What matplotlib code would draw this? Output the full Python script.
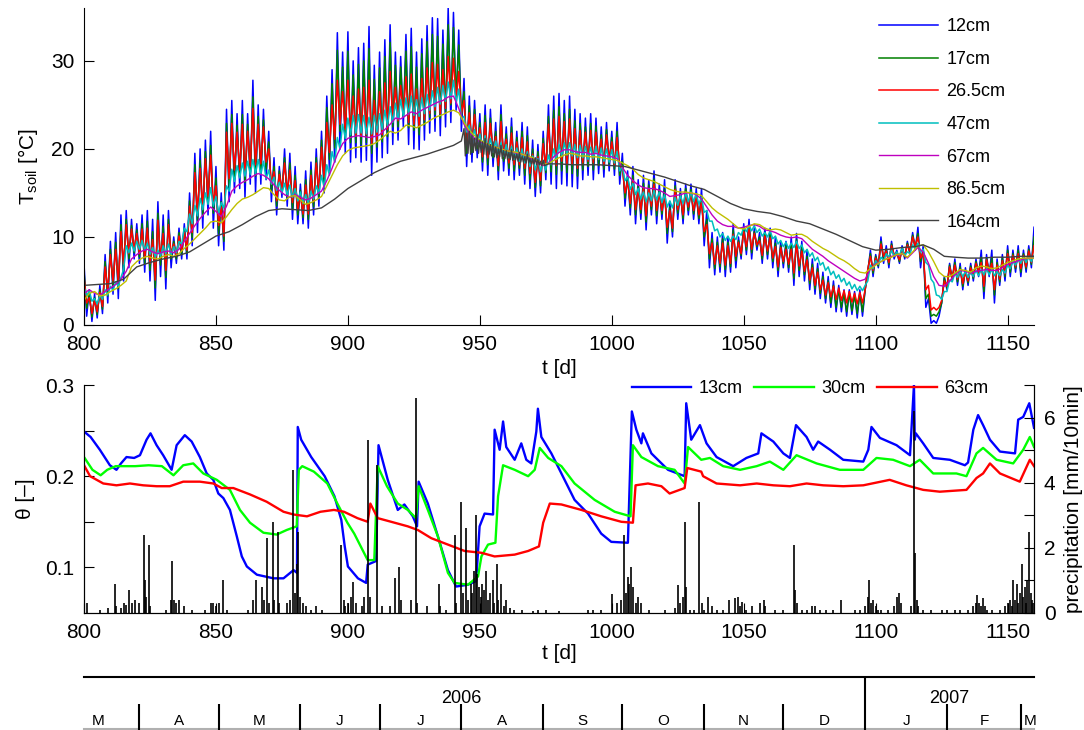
import numpy as np
import matplotlib.pyplot as plt

plt.rcParams['font.family'] = ['Liberation Sans', 'DejaVu Sans']
plt.rcParams['mathtext.fontset'] = 'custom'
plt.rcParams['mathtext.rm'] = 'Liberation Sans'
plt.rcParams['mathtext.it'] = 'Liberation Sans:italic'

# ---------------- soil temperature (daily highs on even days, lows on odd days)
t12_hi = [7.0, 4.0, 3.5, 4.5, 8.0, 9.5, 10.5, 12.5, 13.0, 12.0,
          11.5, 12.5, 13.0, 12.0, 14.0, 12.5, 13.0, 10.0, 11.0, 11.5,
          15.0, 19.5, 20.0, 21.0, 22.0, 18.0, 15.0, 24.5, 25.5, 24.0,
          25.5, 24.0, 27.8, 25.0, 24.5, 22.0, 19.0, 18.0, 20.0, 19.5,
          18.0, 16.0, 17.5, 18.5, 20.0, 22.0, 26.0, 29.0, 33.2, 31.0,
          33.3, 30.0, 31.5, 32.0, 33.9, 29.5, 31.0, 32.4, 34.1, 31.0,
          30.5, 33.0, 33.7, 31.0, 32.5, 34.0, 34.9, 34.8, 33.5, 36.0,
          35.5, 33.5, 28.0, 26.0, 25.5, 24.0, 25.0, 24.5, 23.0, 25.0,
          22.5, 23.5, 22.0, 23.0, 22.5, 21.0, 20.5, 22.0, 25.0, 26.0,
          26.3, 25.5, 26.0, 24.5, 24.0, 23.5, 24.0, 23.5, 22.5, 23.0,
          22.0, 23.0, 19.5, 17.5, 18.0, 16.5, 17.0, 16.5, 17.5, 16.0,
          16.5, 14.0, 16.5, 15.5, 16.0, 16.0, 15.5, 15.5, 13.0, 10.5,
          10.0, 10.5, 10.0, 11.5, 10.0, 11.5, 12.0, 11.0, 10.5, 11.0,
          11.0, 10.0, 9.5, 9.5, 10.0, 10.4, 9.5, 8.5, 7.5, 7.0,
          6.0, 5.5, 5.0, 4.5, 4.0, 4.0, 3.8, 4.0, 4.0, 8.5,
          8.0, 10.0, 9.0, 9.5, 8.5, 9.0, 9.5, 10.5, 11.1, 9.0,
          3.0, 0.5, 1.0, 5.5, 7.0, 7.5, 7.0, 6.5, 7.0, 7.5,
          8.5, 8.0, 8.5, 7.5, 8.0, 9.0, 8.5, 9.0, 8.5, 9.0,
          11.1]
t12_lo = [1.0, 0.4, 0.8, 1.3, 2.5, 3.5, 3.0, 5.0, 6.5, 7.5,
          7.0, 6.0, 5.0, 2.8, 5.5, 4.1, 6.5, 7.0, 7.5, 7.5,
          9.0, 10.5, 11.0, 12.5, 11.0, 9.0, 8.5, 14.0, 15.0, 15.5,
          14.5, 16.0, 15.0, 16.0, 16.5, 14.0, 12.5, 14.5, 13.5, 12.0,
          11.5, 11.5, 11.0, 12.5, 13.5, 15.0, 17.5, 18.5, 20.0, 19.5,
          18.5, 19.0, 18.5, 18.7, 17.0, 18.5, 19.0, 19.5, 20.5, 21.0,
          22.5, 20.5, 20.0, 19.9, 21.0, 21.8, 22.0, 21.5, 22.5, 23.0,
          24.4, 22.0, 18.0, 18.5, 19.0, 17.5, 17.0, 18.0, 16.5, 17.5,
          17.0, 16.5, 17.0, 16.0, 15.5, 14.6, 15.0, 16.5, 16.0, 15.5,
          16.0, 15.8, 15.7, 15.5, 16.5, 17.0, 16.5, 17.2, 16.8, 17.5,
          17.0, 16.0, 13.5, 12.5, 11.5, 12.0, 10.8, 12.5, 11.5, 12.0,
          9.3, 10.0, 12.0, 11.5, 12.5, 12.0, 11.5, 9.0, 6.5, 5.7,
          6.0, 5.5, 6.0, 6.5, 7.5, 8.0, 7.5, 8.5, 7.0, 7.5,
          6.5, 5.5, 6.5, 6.0, 4.5, 5.5, 5.0, 4.0, 3.5, 3.0,
          2.5, 2.0, 1.5, 1.5, 1.0, 1.2, 0.8, 1.0, 6.0, 5.5,
          6.5, 7.0, 6.5, 7.5, 7.0, 7.5, 8.0, 8.5, 6.5, 2.0,
          0.2, 0.2, 2.5, 4.0, 5.0, 4.5, 4.0, 4.5, 5.0, 5.5,
          3.0, 5.5, 2.5, 4.5, 5.0, 5.5, 6.0, 5.5, 6.0, 6.5]

t17_hi = [6.1, 3.5, 3.1, 4.0, 7.2, 8.6, 9.4, 11.4, 12.0, 11.3,
          10.8, 11.5, 11.8, 10.6, 12.7, 11.2, 12.0, 9.5, 10.5, 10.9,
          14.1, 18.2, 18.7, 19.7, 20.4, 16.7, 14.0, 22.9, 23.9, 22.7,
          23.9, 22.8, 25.9, 23.7, 23.3, 20.8, 18.0, 17.5, 19.0, 18.4,
          17.0, 15.3, 16.5, 17.6, 19.0, 21.0, 24.7, 27.4, 31.2, 29.3,
          31.1, 28.4, 29.6, 30.0, 31.4, 27.9, 29.2, 30.5, 32.1, 29.5,
          29.3, 31.1, 31.6, 29.3, 30.8, 32.2, 33.0, 32.8, 31.9, 34.1,
          33.8, 31.8, 26.5, 24.9, 24.5, 23.0, 23.8, 23.5, 22.0, 23.9,
          21.7, 22.5, 21.3, 22.0, 21.5, 20.0, 19.7, 21.2, 23.7, 24.4,
          24.8, 24.0, 24.5, 23.2, 22.9, 22.5, 22.9, 22.6, 21.6, 22.2,
          21.3, 22.0, 18.6, 16.8, 17.0, 15.8, 16.1, 15.9, 16.6, 15.4,
          15.4, 13.4, 15.8, 14.9, 15.5, 15.4, 14.9, 14.5, 12.0, 9.8,
          9.4, 9.8, 9.4, 10.8, 9.6, 11.0, 11.3, 10.6, 10.0, 10.5,
          10.3, 9.3, 9.0, 9.0, 9.2, 9.7, 8.8, 7.8, 6.9, 6.4,
          5.5, 5.0, 4.5, 4.0, 3.6, 3.6, 3.4, 3.6, 4.0, 8.1,
          7.8, 9.5, 8.6, 9.2, 8.3, 8.8, 9.3, 10.2, 10.4, 8.5,
          3.5, 1.2, 1.5, 5.3, 6.8, 7.1, 6.6, 6.2, 6.7, 7.2,
          7.7, 7.6, 7.6, 7.1, 7.6, 8.5, 8.1, 8.5, 8.1, 8.6,
          10.0]
t17_lo = [1.9, 0.9, 1.2, 1.8, 3.3, 4.4, 4.1, 6.1, 7.5, 8.2,
          7.7, 7.0, 6.2, 4.2, 6.8, 5.4, 7.5, 7.5, 8.0, 8.1,
          9.9, 11.9, 12.4, 13.8, 12.7, 10.4, 9.5, 15.6, 16.6, 16.8,
          16.2, 17.2, 16.9, 17.4, 17.7, 15.2, 13.5, 15.0, 14.5, 13.1,
          12.5, 12.2, 12.0, 13.4, 14.5, 16.0, 18.8, 20.1, 22.0, 21.2,
          20.7, 20.7, 20.5, 20.7, 19.5, 20.2, 20.8, 21.4, 22.5, 22.5,
          23.7, 22.4, 22.1, 21.6, 22.7, 23.6, 23.9, 23.5, 24.2, 25.0,
          26.1, 23.7, 19.5, 19.6, 20.0, 18.5, 18.2, 19.0, 17.5, 18.6,
          17.8, 17.5, 17.8, 17.0, 16.5, 15.6, 15.8, 17.3, 17.4, 17.1,
          17.5, 17.3, 17.2, 16.9, 17.6, 18.0, 17.6, 18.1, 17.7, 18.3,
          17.7, 17.0, 14.4, 13.3, 12.5, 12.7, 11.7, 13.1, 12.4, 12.6,
          10.4, 10.6, 12.7, 12.1, 13.0, 12.6, 12.1, 10.0, 7.5, 6.4,
          6.6, 6.3, 6.6, 7.3, 7.9, 8.5, 8.2, 8.9, 7.5, 8.0,
          7.2, 6.2, 7.0, 6.5, 5.3, 6.2, 5.7, 4.7, 4.1, 3.6,
          3.0, 2.5, 2.0, 2.0, 1.5, 1.6, 1.3, 1.5, 6.2, 5.9,
          6.7, 7.5, 6.9, 7.8, 7.2, 7.7, 8.2, 8.8, 7.2, 3.0,
          1.0, 1.0, 2.5, 4.2, 5.2, 4.9, 4.4, 4.8, 5.3, 5.8,
          3.8, 5.9, 3.4, 4.9, 5.5, 6.0, 6.4, 6.0, 6.4, 6.9]

t26_hi = [5.5, 3.1, 2.8, 3.7, 6.6, 8.0, 8.6, 10.6, 11.4, 10.9,
          10.4, 10.9, 11.0, 9.7, 11.9, 10.4, 11.4, 9.2, 10.1, 10.5,
          13.5, 17.3, 17.8, 18.9, 19.3, 15.8, 13.4, 21.9, 22.9, 21.9,
          22.8, 22.0, 24.6, 22.8, 22.5, 20.0, 17.4, 17.1, 18.4, 17.6,
          16.4, 14.9, 15.9, 17.0, 18.4, 20.2, 23.0, 25.0, 27.8, 26.5,
          27.8, 26.0, 26.8, 27.0, 27.8, 25.5, 26.5, 27.5, 28.8, 27.0,
          27.2, 28.2, 28.5, 26.8, 28.0, 29.2, 29.8, 29.6, 29.0, 30.5,
          30.3, 28.8, 25.5, 24.1, 23.9, 22.4, 23.0, 22.9, 21.4, 23.1,
          21.1, 21.8, 20.8, 21.3, 20.8, 19.4, 19.1, 20.6, 22.8, 23.4,
          23.7, 23.1, 23.4, 22.3, 22.1, 21.9, 22.1, 21.9, 21.1, 21.6,
          20.8, 21.3, 18.0, 16.3, 16.4, 15.4, 15.5, 15.5, 16.0, 15.0,
          14.7, 13.0, 15.4, 14.5, 15.1, 15.0, 14.5, 13.9, 11.4, 9.3,
          9.0, 9.3, 9.0, 10.3, 9.4, 10.6, 10.9, 10.4, 9.6, 10.1,
          9.9, 8.9, 8.8, 8.6, 8.6, 9.2, 8.4, 7.4, 6.5, 6.0,
          5.1, 4.8, 4.4, 4.2, 3.9, 3.8, 3.6, 3.7, 4.0, 7.8,
          7.6, 9.2, 8.4, 9.0, 8.1, 8.6, 9.1, 10.0, 10.0, 8.2,
          4.5, 2.0, 2.0, 5.0, 6.6, 6.8, 6.3, 6.0, 6.5, 7.0,
          7.1, 7.4, 7.0, 6.8, 7.3, 8.1, 7.9, 8.1, 7.9, 8.4,
          9.0]
t26_lo = [2.5, 1.3, 1.5, 2.1, 3.9, 5.0, 4.9, 6.9, 8.1, 8.6,
          8.1, 7.6, 7.0, 5.1, 7.6, 6.2, 8.1, 7.8, 8.4, 8.5,
          10.5, 12.8, 13.3, 14.6, 13.8, 11.3, 10.1, 16.6, 17.6, 17.6,
          17.3, 18.0, 18.2, 18.3, 18.5, 16.0, 14.1, 15.4, 15.1, 13.9,
          13.1, 12.6, 12.6, 14.0, 15.1, 16.8, 19.6, 21.1, 22.8, 22.2,
          21.8, 21.5, 21.4, 21.6, 20.6, 21.0, 21.6, 22.2, 23.2, 23.2,
          24.0, 23.0, 22.8, 22.5, 23.3, 24.0, 24.4, 24.0, 24.6, 25.2,
          25.6, 24.0, 20.5, 20.4, 20.6, 19.1, 19.0, 19.6, 18.1, 19.4,
          18.4, 18.2, 18.2, 17.8, 17.2, 16.2, 16.4, 17.9, 18.3, 18.1,
          18.6, 18.2, 18.3, 17.8, 18.4, 18.6, 18.4, 18.8, 18.2, 18.9,
          18.2, 17.8, 15.0, 13.8, 13.1, 13.1, 12.4, 13.5, 13.0, 13.0,
          11.1, 11.0, 13.1, 12.5, 13.4, 13.0, 12.5, 10.6, 8.1, 6.9,
          7.0, 6.8, 7.0, 7.8, 8.1, 8.9, 8.6, 9.1, 7.9, 8.4,
          7.6, 6.6, 7.2, 6.9, 5.9, 6.7, 6.1, 5.1, 4.5, 4.0,
          3.4, 3.2, 2.9, 2.8, 2.5, 2.6, 2.4, 2.5, 6.3, 6.2,
          6.9, 7.8, 7.1, 8.0, 7.4, 7.9, 8.4, 9.0, 7.6, 4.0,
          1.7, 1.7, 2.8, 4.4, 5.4, 5.2, 4.7, 5.0, 5.5, 6.0,
          4.4, 6.1, 4.0, 5.2, 5.8, 6.4, 6.6, 6.4, 6.6, 7.1]

t47_hi = [4.3, 3.9, 3.0, 3.4, 4.0, 4.4, 4.9, 5.4, 9.0, 9.3,
          9.5, 9.6, 9.3, 8.8, 8.5, 9.0, 9.2, 8.9, 9.5, 11.0,
          12.6, 13.6, 14.4, 15.0, 15.6, 14.6, 13.9, 15.8, 17.7, 18.1,
          18.4, 18.6, 18.8, 18.8, 18.6, 17.6, 16.8, 16.2, 16.1, 15.9,
          15.5, 15.1, 14.8, 15.2, 15.8, 17.0, 18.2, 19.7, 21.3, 22.8,
          23.5, 23.8, 23.9, 23.8, 23.6, 23.8, 24.0, 24.4, 24.8, 25.2,
          25.6, 25.8, 26.0, 25.6, 25.8, 26.2, 26.6, 27.0, 27.2, 27.6,
          27.8, 26.8, 23.7, 22.7, 22.2, 21.7, 21.5, 21.2, 20.9, 20.7,
          20.5, 20.3, 20.1, 20.0, 19.7, 19.2, 18.9, 18.7, 19.3, 20.0,
          20.5, 20.7, 20.7, 20.5, 20.4, 20.3, 20.2, 20.3, 20.1, 20.0,
          19.9, 19.7, 18.0, 16.8, 16.1, 15.5, 15.1, 15.0, 15.3, 15.1,
          14.8, 14.1, 14.5, 14.7, 15.0, 15.1, 14.9, 14.5, 13.0, 11.8,
          10.9, 10.4, 10.1, 10.1, 10.5, 11.1, 11.3, 11.3, 10.9, 10.5,
          10.7, 10.1, 9.6, 9.4, 9.3, 9.5, 9.1, 8.6, 8.2, 7.7,
          7.1, 6.6, 6.1, 5.7, 5.3, 4.9, 4.6, 4.4, 4.5, 6.8,
          7.3, 7.7, 8.1, 8.5, 8.3, 8.7, 8.3, 9.1, 9.3, 8.6,
          6.8, 4.8, 3.3, 3.8, 5.1, 5.9, 6.2, 6.1, 6.0, 6.2,
          6.3, 6.4, 6.3, 6.1, 6.3, 6.8, 7.3, 7.5, 7.7, 7.8,
          7.9]
t47_lo = [3.3, 2.7, 2.4, 2.9, 3.4, 3.9, 4.4, 6.3, 8.2, 8.4,
          8.6, 8.5, 8.0, 7.7, 7.8, 8.1, 8.0, 8.2, 9.2, 10.6,
          11.5, 12.4, 13.1, 13.7, 13.5, 12.7, 13.3, 15.2, 16.3, 16.7,
          16.9, 17.1, 17.2, 17.1, 16.6, 16.0, 15.3, 15.0, 14.8, 14.5,
          14.1, 13.8, 13.8, 14.3, 15.0, 15.6, 17.0, 18.5, 20.0, 21.2,
          21.6, 21.8, 21.8, 21.7, 21.7, 21.9, 22.2, 22.6, 23.0, 23.4,
          23.7, 23.9, 23.8, 23.7, 24.0, 24.4, 24.8, 25.1, 25.4, 25.7,
          25.3, 23.4, 21.8, 21.0, 20.5, 20.2, 19.9, 19.6, 19.4, 19.2,
          19.0, 18.8, 18.6, 18.4, 18.0, 17.6, 17.4, 17.6, 18.2, 18.8,
          19.2, 19.3, 19.2, 19.0, 19.0, 18.8, 18.9, 18.8, 18.6, 18.5,
          18.4, 17.5, 16.4, 15.4, 14.8, 14.3, 14.0, 14.1, 14.2, 13.9,
          13.4, 13.3, 13.6, 13.8, 14.0, 14.0, 13.7, 12.8, 11.8, 10.7,
          10.0, 9.6, 9.5, 9.7, 10.2, 10.6, 10.7, 10.5, 10.1, 10.0,
          9.8, 9.2, 8.9, 8.7, 8.8, 8.7, 8.2, 7.8, 7.3, 6.8,
          6.2, 5.7, 5.3, 4.9, 4.5, 4.1, 3.9, 3.9, 5.0, 6.4,
          6.9, 7.3, 7.7, 7.8, 7.9, 7.9, 8.1, 8.6, 8.3, 7.1,
          5.2, 3.4, 2.9, 3.8, 4.9, 5.4, 5.5, 5.4, 5.5, 5.6,
          5.7, 5.7, 5.6, 5.6, 5.9, 6.4, 6.8, 7.0, 7.1, 7.2]

# every second day from day 800
t67 = [3.6, 4.0, 3.6, 3.4, 3.8, 4.2, 4.6, 5.2, 6.1, 7.5,
       8.0, 8.4, 8.6, 8.3, 8.1, 8.3, 8.4, 8.2, 8.6, 9.5,
       10.4, 11.3, 12.1, 12.8, 13.4, 12.9, 12.3, 13.5, 15.2, 15.8,
       16.2, 16.5, 16.9, 17.2, 17.0, 16.6, 15.9, 15.3, 14.8, 14.5,
       14.8, 14.5, 14.2, 14.4, 14.8, 15.2, 16.4, 17.8, 19.4, 20.6,
       21.2, 21.4, 21.5, 21.4, 21.3, 21.4, 21.6, 22.2, 22.8, 23.5,
       23.4, 23.8, 24.2, 24.0, 24.4, 24.7, 25.0, 25.3, 25.5, 25.9,
       26.0, 24.6, 22.8, 21.8, 21.2, 20.8, 20.6, 20.4, 20.2, 20.0,
       19.8, 19.7, 19.5, 19.4, 19.2, 18.8, 18.4, 18.1, 18.4, 19.1,
       19.6, 19.9, 19.9, 19.7, 19.6, 19.6, 19.4, 19.5, 19.3, 19.2,
       19.1, 18.9, 17.9, 17.0, 16.4, 15.9, 15.6, 15.5, 15.5, 15.3,
       15.0, 14.6, 14.7, 14.8, 15.0, 15.0, 14.8, 14.3, 13.4, 12.5,
       11.8, 11.4, 11.2, 11.2, 11.0, 11.1, 11.3, 11.4, 11.2, 10.8,
       10.7, 10.5, 10.2, 10.0, 9.9, 10.0, 9.8, 9.2, 8.6, 8.2,
       7.8, 7.3, 6.9, 6.5, 6.1, 5.7, 5.3, 5.0, 5.2, 6.4,
       6.9, 7.2, 7.5, 7.8, 7.9, 8.1, 7.6, 8.2, 8.8, 8.3,
       7.0, 5.5, 4.5, 4.4, 5.0, 5.7, 6.2, 6.1, 5.9, 6.1,
       6.2, 6.3, 6.2, 6.2, 6.5, 6.9, 7.1, 7.3, 7.5, 7.6,
       7.6]
t86 = [2.8, 3.6, 3.8, 3.3, 3.4, 3.8, 4.1, 4.5, 5.0, 6.6,
       7.2, 7.6, 7.8, 7.6, 7.5, 7.8, 8.0, 7.8, 8.1, 8.7,
       9.2, 9.8, 10.4, 11.0, 11.7, 11.8, 11.6, 12.3, 13.1, 13.8,
       14.3, 14.5, 14.8, 15.2, 15.6, 15.5, 14.8, 14.2, 14.1, 14.6,
       14.7, 14.2, 13.7, 13.9, 14.2, 14.6, 15.8, 17.0, 18.2, 19.2,
       19.8, 20.1, 20.2, 20.3, 20.4, 20.6, 21.0, 21.5, 22.0, 21.8,
       22.1, 22.7, 22.6, 22.4, 22.7, 23.0, 23.4, 23.7, 23.9, 24.2,
       24.4, 24.1, 23.0, 22.1, 21.5, 21.0, 20.7, 20.4, 20.2, 20.0,
       19.8, 19.7, 19.6, 19.4, 19.2, 19.0, 18.6, 18.3, 18.3, 18.7,
       19.0, 19.3, 19.5, 19.4, 19.2, 19.2, 19.1, 19.1, 19.0, 18.9,
       18.8, 18.7, 18.4, 18.1, 17.7, 17.1, 16.7, 16.5, 16.3, 16.0,
       15.7, 15.4, 15.2, 15.1, 15.1, 15.0, 14.9, 14.7, 14.0, 13.3,
       12.8, 12.4, 12.0, 11.5, 11.0, 10.9, 11.2, 11.5, 11.4, 11.0,
       10.8, 10.9, 10.8, 10.5, 10.2, 10.3, 10.3, 10.0, 9.5, 9.1,
       8.7, 8.4, 8.0, 7.6, 7.3, 6.9, 6.4, 6.0, 5.9, 6.4,
       6.8, 7.2, 7.5, 7.7, 8.0, 8.1, 7.7, 8.3, 9.0, 9.1,
       8.3, 7.2, 6.0, 5.5, 5.5, 5.9, 6.3, 6.2, 6.0, 6.5,
       6.7, 6.6, 6.4, 6.5, 6.8, 7.1, 7.3, 7.5, 7.6, 7.6,
       7.6]

t164_t = [800, 805, 810, 815, 820, 825, 830, 835, 840, 845, 850, 855, 860,
          865, 870, 875, 880, 885, 890, 895, 900, 905, 910, 915, 920, 925,
          930, 935, 940, 943]
t164_v = [4.5, 4.6, 4.7, 5.2, 6.6, 7.1, 7.5, 7.8, 8.3, 9.2, 10.1, 10.6, 11.4,
          12.3, 13.0, 13.2, 13.1, 13.0, 13.3, 14.3, 15.5, 16.4, 17.3, 18.0,
          18.6, 19.0, 19.4, 19.9, 20.4, 20.9]
# noisy stretch, days 944..974 (high) and 944.5..974.5 (low)
t164_band_hi = [22.3, 21.8, 22.0, 21.5, 21.2, 21.6, 21.0, 20.8, 21.2, 20.6,
                20.5, 20.8, 20.2, 20.0, 20.4, 19.8, 19.8, 19.6, 19.9, 19.4,
                19.4, 19.6, 19.2, 19.1, 19.4, 18.9, 18.9, 19.0, 18.8, 18.6,
                18.7]
t164_band_lo = [19.2, 19.5, 19.4, 19.6, 19.8, 19.5, 19.6, 19.4, 19.3, 19.4,
                19.2, 19.1, 19.0, 19.1, 18.9, 18.9, 18.8, 18.8, 18.7, 18.7,
                18.6, 18.5, 18.5, 18.4, 18.4, 18.3, 18.3, 18.2, 18.2, 18.1,
                18.1]
t164_late_t = [976, 980, 985, 990, 995, 1000, 1005, 1010, 1015, 1020, 1025,
               1030, 1035, 1040, 1045, 1050, 1055, 1060, 1065, 1070, 1075,
               1080, 1085, 1090, 1095, 1100, 1105, 1110, 1115, 1118, 1122,
               1126, 1130, 1135, 1140, 1145, 1150, 1155, 1160]
t164_late_v = [18.3, 18.3, 18.2, 18.2, 18.2, 18.1, 18.0, 17.6, 17.2, 16.8,
               16.3, 15.8, 15.4, 14.6, 13.8, 13.2, 12.9, 12.7, 12.3, 11.8,
               11.5, 10.9, 10.3, 9.6, 8.9, 8.5, 8.6, 8.8, 8.9, 9.1, 8.6,
               7.8, 7.7, 7.6, 7.6, 7.7, 7.7, 7.8, 7.8]

# ---------------- soil moisture
th13_t = [800, 802.5, 806, 809.8, 812.3, 814, 816.1, 819, 821.2, 823.7, 825.2,
          827.5, 830, 833.2, 835.1, 838.2, 840.8, 843.9, 846.5, 849, 850.9,
          852.8, 855.3, 857.9, 859.8, 861.7, 865.5, 871.8, 875.6, 879.4,
          880.7, 881.0, 882.3, 886.1, 891.2, 894.9, 897.5, 898.8, 900, 903.8,
          906.9, 907.5, 910.7, 911.6, 915.1, 918.9, 921.4, 924.6, 926.2,
          926.8, 930.3, 934.1, 937.9, 941, 945.5, 948.6, 949.9, 951.8, 955,
          955.6, 957.5, 958.8, 960, 963.2, 965.7, 967.6, 969.5, 971.4, 972,
          973.3, 977.1, 980.9, 985.9, 991, 996, 999.8, 1006.1, 1007.6,
          1009.3, 1011.2, 1011.8, 1015, 1021.3, 1027.6, 1028.2, 1030.1,
          1033.4, 1035.9, 1039.7, 1046, 1051, 1055.5, 1056.7, 1061.2, 1065,
          1067.5, 1069.8, 1073.8, 1076.3, 1078.2, 1082.7, 1087.7, 1095.3,
          1097.2, 1098.4, 1101.6, 1107.9, 1113, 1114.5, 1114.8, 1115.2, 1118,
          1121.8, 1128.1, 1133.8, 1135, 1137, 1138.8, 1140.7, 1143.3, 1147.1,
          1152.8, 1154, 1155.9, 1158.2, 1160]
th13_v = [.249, .243, .229, .212, .207, .214, .221, .220, .223, .240, .247,
          .234, .223, .207, .234, .245, .238, .221, .203, .196, .181,
          .176, .163, .134, .112, .101, .092, .088, .088, .097,
          .094, .254, .240, .221, .200, .178, .152, .123, .101, .088,
          .083, .103, .107, .234, .196, .163, .169, .156, .145,
          .194, .170, .134, .097, .079, .081, .085, .145, .159, .158,
          .251, .229, .260, .232, .218, .236, .218, .214, .249, .274,
          .243, .225, .203, .174, .159, .137, .128, .127, .271,
          .251, .236, .247, .225, .207, .200, .280, .240,
          .256, .236, .221, .211, .220, .225, .247, .238, .225,
          .220, .256, .243, .229, .238, .229, .218, .216,
          .229, .254, .242, .234, .223, .300, .240, .247, .236,
          .220, .218, .212, .215, .251, .267, .256, .240, .227,
          .225, .262, .265, .280, .253]

th30_t = [800, 803.2, 806.3, 808.8, 812, 819.4, 824.5, 829.5, 833.9, 837.6,
          841.4, 845.2, 850.3, 855.3, 859.1, 862.9, 868, 873, 876.8, 880.6,
          881.4, 882.7, 887.1, 892.2, 896, 899.8, 902.4, 907.5, 910, 911.3,
          914.8, 918.9, 922.7, 925.8, 926.8, 930.3, 934.1, 937.9, 940.4,
          945.5, 949.3, 950.6, 953.1, 955.9, 956.9, 958.8, 963.2, 968.3,
          970.8, 972.7, 975.9, 980.9, 985.9, 993.5, 1001.1, 1007.1, 1008,
          1011.2, 1017.5, 1023.8, 1027.6, 1028.9, 1033.9, 1037.2, 1042.2,
          1048.6, 1054.9, 1059.9, 1065, 1070, 1077.6, 1086.4, 1095.3,
          1100.3, 1106.6, 1113, 1116.7, 1121.8, 1130.6, 1134.4, 1138.2,
          1140.7, 1145.8, 1152.1, 1155.9, 1158.4, 1160]
th30_v = [.221, .207, .201, .207, .211, .211, .212, .211, .201, .212,
          .214, .203, .196, .185, .163, .149, .138, .136, .141, .145,
          .207, .211, .205, .192, .170, .149, .137, .108, .108, .211,
          .189, .170, .163, .154, .189, .163, .134, .094, .083,
          .081, .090, .112, .125, .127, .178, .212, .207, .200,
          .207, .231, .220, .211, .192, .174, .161, .156, .234,
          .221, .211, .207, .192, .232, .218, .220, .211,
          .207, .211, .216, .207, .223, .214, .207, .207,
          .220, .218, .211, .218, .203, .203, .200, .225,
          .231, .218, .214, .229, .243, .232]

th63_t = [800, 802.3, 807.3, 812.3, 817.4, 822.4, 827.5, 832.5, 837.6, 843.9,
          849, 852.2, 856.6, 862.9, 869.2, 875.6, 879.4, 884.5, 889.6, 894.7,
          898.5, 903.6, 907.5, 908.5, 911.3, 916.4, 922.7, 926.5, 931.6,
          937.9, 944.2, 950.6, 955.6, 963.2, 968.3, 972.4, 974, 976.5, 980.9,
          988.5, 996, 1003.6, 1008, 1009, 1013.7, 1018.8, 1021.9, 1027.6,
          1028.6, 1033.9, 1034.6, 1039.7, 1048.6, 1054.9, 1061.2, 1067.5,
          1073.8, 1080.1, 1087.7, 1095.3, 1105.3, 1111.6, 1118, 1124.3,
          1134.4, 1138.2, 1140.7, 1143.3, 1147.1, 1154.6, 1158.4, 1160]
th63_v = [.212, .200, .192, .190, .192, .190, .189, .189, .194, .194,
          .192, .187, .187, .180, .172, .161, .158, .156, .161, .163,
          .161, .154, .150, .170, .154, .150, .145, .141, .132,
          .125, .118, .116, .112, .114, .118, .123, .149, .170, .169,
          .163, .156, .150, .149, .190, .192, .189, .181, .187,
          .209, .205, .200, .192, .190, .192, .190, .189,
          .192, .190, .189, .190, .196, .190, .185, .183,
          .185, .198, .203, .214, .203, .194, .218, .211]

# ---------------- precipitation [mm/10min]
rain_t = [800.1, 801, 806, 809, 811.7, 812, 814, 815, 816, 817.2, 818, 819.5,
          821, 822.7, 823, 823.5, 824.5, 825, 831, 833, 833.5, 834, 835, 836,
          838, 841, 846, 848, 849, 850, 851, 852.8, 854, 862, 864, 865, 867.5,
          868.3, 869.2, 870, 871.5, 872, 873.4, 874, 877, 878, 879.1, 880.1,
          880.6, 881.2, 882, 883, 884, 886, 888, 890, 897.3, 898.5, 899, 900,
          901, 902, 903, 905.5, 906, 907.8, 908.5, 910.9, 913, 916, 917.8,
          919.5, 920, 924, 925.8, 926.3, 930, 934.6, 935, 937, 940.6, 941,
          942.7, 943.5, 944.6, 945.5, 946.5, 947, 947.8, 948.5, 949, 949.5,
          950.3, 951, 951.6, 952.4, 953, 954, 955, 955.5, 956.4, 957, 958, 959,
          960, 961.5, 963, 966, 970, 972, 975, 980, 991, 993, 996, 1000, 1002,
          1003.5, 1004.7, 1005.4, 1006, 1006.6, 1007.3, 1008, 1009, 1010, 1011,
          1014, 1020, 1024, 1025.2, 1026, 1027, 1027.7, 1028.3, 1029.5, 1031,
          1033.2, 1034, 1035, 1036.5, 1038, 1040, 1042, 1044.5, 1046.5, 1048,
          1048.5, 1049.5, 1051, 1053, 1056, 1057.5, 1058, 1062, 1065, 1069,
          1069.4, 1070, 1072, 1074, 1076, 1077, 1079, 1081, 1084, 1087, 1092,
          1094, 1096, 1097.1, 1097.6, 1098.2, 1099, 1100, 1101, 1102, 1104.5,
          1107, 1108, 1108.7, 1109.5, 1113.3, 1114.6, 1115, 1115.5, 1116, 1118,
          1121, 1125, 1127, 1130, 1132, 1135, 1137, 1138, 1138.5, 1139, 1140,
          1140.8, 1141.5, 1142, 1144, 1147, 1149, 1150, 1151, 1151.5, 1152.2,
          1152.8, 1153.5, 1154, 1154.5, 1155.3, 1155.8, 1156.5, 1157, 1157.5,
          1158.2, 1158.8, 1159.3, 1159.8]
rain_v = [1.2, 0.3, 0.1, 0.15, 0.9, 0.2, 0.15, 0.3, 0.25, 0.7, 0.3, 0.4,
          0.3, 2.4, 1.0, 0.5, 2.1, 0.2, 0.1, 0.4, 1.6, 0.4, 0.3, 0.4,
          0.2, 0.1, 0.1, 0.3, 0.3, 0.2, 0.3, 1.0, 0.1, 0.1, 0.4, 1.0, 0.8,
          0.4, 2.3, 0.3, 2.8, 0.4, 2.5, 0.3, 0.3, 0.4, 4.4, 0.6,
          1.5, 2.5, 0.5, 0.3, 0.2, 0.1, 0.2, 0.1, 2.1, 0.4, 0.2, 0.3,
          0.5, 0.96, 0.3, 0.2, 0.5, 5.3, 0.5, 4.55, 0.2, 0.2, 1.07,
          1.4, 0.4, 0.4, 6.6, 0.3, 0.2, 0.9, 0.2, 0.1, 2.4, 0.3,
          3.4, 0.6, 2.6, 0.4, 0.9, 0.6, 1.3, 3.0, 1.2, 0.8,
          0.5, 0.9, 0.7, 1.3, 0.4, 0.6, 1.0, 0.3, 1.5, 0.4, 0.9, 0.2,
          0.4, 0.15, 0.1, 0.1, 0.05, 0.1, 0.1, 0.05, 0.1, 0.1, 0.1, 0.58, 0.3,
          0.4, 2.4, 0.6, 1.1, 0.9, 1.4, 0.8, 0.3, 0.5, 0.3,
          0.1, 0.1, 0.15, 0.86, 0.3, 0.5, 2.8, 0.8, 0.1, 0.1,
          3.4, 0.3, 0.1, 0.5, 0.2, 0.1, 0.1, 0.4, 0.45, 0.5,
          0.2, 0.35, 0.1, 0.2, 0.3, 0.4, 0.2, 0.1, 0.1, 2.1,
          0.7, 0.3, 0.1, 0.1, 0.2, 0.2, 0.1, 0.1, 0.1, 0.4, 0.1,
          0.1, 0.2, 0.5, 1.0, 0.3, 0.4, 0.2, 0.1, 0.1, 0.1,
          0.2, 0.5, 0.6, 0.3, 0.2, 6.2, 1.85, 0.4, 0.2, 0.1,
          0.1, 0.1, 0.1, 0.1, 0.1, 0.1, 0.2, 0.3, 0.55, 0.3, 0.2,
          0.45, 0.2, 0.1, 0.1, 0.1, 0.2, 0.3, 0.4, 0.2, 1.0,
          0.4, 0.9, 0.3, 0.6, 1.5, 0.5, 0.8, 0.3, 1.0,
          2.5, 0.6, 0.4, 0.3]

# ---------------- calendar strip
month_starts = [790, 821, 851, 882, 912, 943, 974, 1004, 1035, 1065, 1096,
                1127, 1155, 1186]
month_names = ['M', 'A', 'M', 'J', 'J', 'A', 'S', 'O', 'N', 'D', 'J', 'F', 'M']
year_names = ['2006', '2007']
year_centres = [943, 1128]
year_break = 1096


def zigzag(hi, lo, start=800.0, step=1.0):
    v = np.empty(len(hi) + len(lo))
    v[0::2] = hi
    v[1::2] = lo
    return start + step * np.arange(len(v)), v


fs = 15
fig = plt.figure(figsize=(10.84, 7.30), dpi=100)

# ---------- top panel
ax1 = fig.add_axes([0.0775, 0.5548, 0.8764, 0.4342])
cols_top = ['#0000ff', '#008000', '#ff0000', '#00bfbf', '#bf00bf', '#bfbf00', '#404040']
for (hi, lo), c, lab in zip([(t12_hi, t12_lo), (t17_hi, t17_lo),
                             (t26_hi, t26_lo), (t47_hi, t47_lo)],
                            cols_top[:4], ['12cm', '17cm', '26.5cm', '47cm']):
    x, y = zigzag(hi, lo)
    ax1.plot(x, y, color=c, lw=1.1, label=lab)
ax1.plot(800 + 2 * np.arange(len(t67)), t67, color=cols_top[4], lw=1.0, label='67cm')
ax1.plot(800 + 2 * np.arange(len(t86)), t86, color=cols_top[5], lw=1.0, label='86.5cm')
bx, bv = zigzag(t164_band_hi, t164_band_lo, start=944.0, step=0.5)
deep_t = np.concatenate([t164_t, bx, t164_late_t])
deep_v = np.concatenate([t164_v, bv, t164_late_v])
ax1.plot(deep_t, deep_v, color=cols_top[6], lw=1.0, label='164cm')

ax1.set_xlim(800, 1160)
ax1.set_ylim(0, 36)
ax1.set_xticks(np.arange(800, 1151, 50))
ax1.set_yticks([0, 10, 20, 30])
ax1.spines['top'].set_visible(False)
ax1.spines['right'].set_visible(False)
ax1.tick_params(direction='in', length=7, labelsize=fs, pad=7)
ax1.set_xlabel('t [d]', fontsize=fs, labelpad=4)
ax1.set_ylabel(r'T$_{\rm soil}$ [°C]', fontsize=fs, labelpad=8)
ax1.legend(loc='upper left', bbox_to_anchor=(0.829, 0.99), frameon=False,
           fontsize=13, handlelength=3.3, handletextpad=0.45,
           labelspacing=0.86, borderaxespad=0)

# ---------- bottom panel
ax2 = fig.add_axes([0.0775, 0.1603, 0.8764, 0.3123])
ax2.plot(th13_t, th13_v, color='#0000ff', lw=1.7, label='13cm')
ax2.plot(th30_t, th30_v, color='#00ff00', lw=1.7, label='30cm')
ax2.plot(th63_t, th63_v, color='#ff0000', lw=1.7, label='63cm')
ax2.set_xlim(800, 1160)
ax2.set_ylim(0.05, 0.3)
ax2.set_xticks(np.arange(800, 1151, 50))
ax2.set_yticks([0.1, 0.15, 0.2, 0.25, 0.3])
ax2.set_yticklabels(['0.1', '', '0.2', '', '0.3'])
ax2.spines['top'].set_visible(False)
ax2.tick_params(direction='in', length=7, labelsize=fs, pad=7)
ax2.set_xlabel('t [d]', fontsize=fs, labelpad=2)
ax2.set_ylabel('θ [–]', fontsize=fs, labelpad=7)

ax2r = ax2.twinx()
ax2r.vlines(rain_t, 0, rain_v, color='k', lw=1.2)
ax2r.set_ylim(0, 7)
ax2r.set_xlim(800, 1160)
ax2r.set_yticks(range(8))
ax2r.set_yticklabels(['0', '', '2', '', '4', '', '6', ''])
ax2r.spines['top'].set_visible(False)
ax2r.tick_params(direction='in', length=7, labelsize=fs, pad=7)
ax2r.set_ylabel('precipitation [mm/10min]', fontsize=fs, labelpad=6)
h, l = ax2.get_legend_handles_labels()
ax2r.legend(h, l, loc='center left', bbox_to_anchor=(0.569, 0.985), ncol=3,
            frameon=False, fontsize=13, handlelength=3.3, handletextpad=0.4,
            columnspacing=0.65, borderaxespad=0)

# ---------- calendar strip
ax3 = fig.add_axes([0.0775, 0.0, 0.8764, 0.0726])
ax3.set_xlim(800, 1160)
ax3.set_ylim(0, 1)
ax3.axis('off')
ax3.axhline(1.0, color='k', lw=1.5, clip_on=False)
ax3.axhline(0.02, color='#b0b0b0', lw=1.5, clip_on=False)
inner = [m for m in month_starts if 800 < m < 1160 and m != year_break]
ax3.vlines(inner, 0, 0.49, color='k', lw=1.5)
ax3.vlines([year_break], 0, 1, color='k', lw=1.5)
centres = np.clip([(a + b) / 2 for a, b in zip(month_starts[:-1], month_starts[1:])],
                  800, 1158.5)
for c, name in zip(centres, month_names):
    ax3.text(c, 0.17, name, ha='center', va='center', fontsize=11)
for c, name in zip(year_centres, year_names):
    ax3.text(c, 0.6, name, ha='center', va='center', fontsize=13)

fig.savefig('out.png', dpi=100)
